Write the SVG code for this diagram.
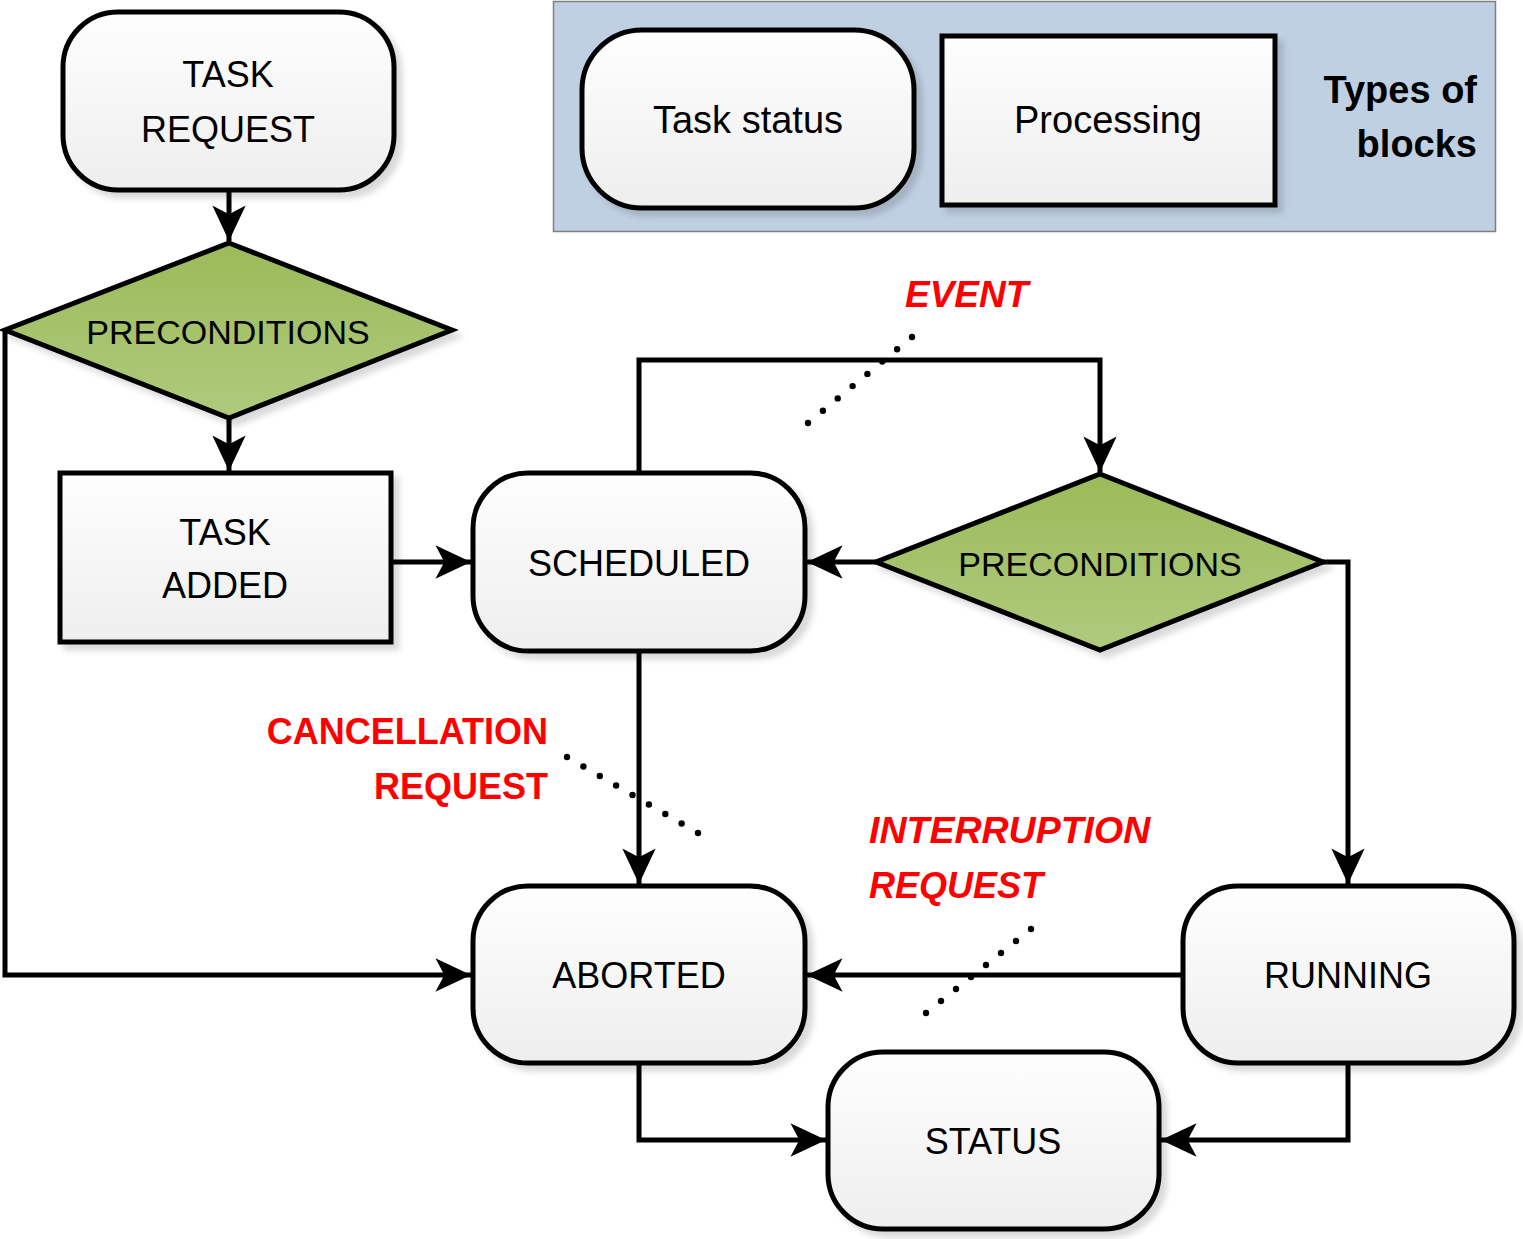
<svg xmlns="http://www.w3.org/2000/svg" width="1523" height="1239" viewBox="0 0 1523 1239">
<style>
.node{stroke:#000;stroke-width:5;fill:url(#gw)}
.dia{stroke:#000;stroke-width:5;fill:url(#gg);stroke-linejoin:miter}
.t{font-family:"Liberation Sans",Arial,sans-serif;font-size:36px;fill:#000;text-anchor:middle}
.r{font-family:"Liberation Sans",Arial,sans-serif;font-size:36px;font-weight:bold;fill:#ff0000}
.c{fill:none;stroke:#000;stroke-width:5;stroke-linejoin:miter}
.dots circle{fill:#000}
</style>
<defs>
<linearGradient id="gw" x1="0" y1="0" x2="0" y2="1"><stop offset="0" stop-color="#fefefe"/><stop offset="1" stop-color="#eeeeee"/></linearGradient>
<linearGradient id="gg" x1="0" y1="0" x2="0" y2="1"><stop offset="0" stop-color="#9bbb59"/><stop offset="1" stop-color="#afca7d"/></linearGradient>
<filter id="sh" x="-10%" y="-10%" width="130%" height="130%">
<feGaussianBlur in="SourceAlpha" stdDeviation="3"/>
<feOffset dx="6" dy="6" result="b"/>
<feComponentTransfer><feFuncA type="linear" slope="0.15"/></feComponentTransfer>
<feMerge><feMergeNode/><feMergeNode in="SourceGraphic"/></feMerge>
</filter>
<marker id="ah" markerUnits="userSpaceOnUse" markerWidth="40" markerHeight="40" viewBox="-34 -18 36 36" refX="0" refY="0" orient="auto">
<path d="M0,0 L-32,-15 L-24,0 L-32,15 Z" fill="#000"/>
</marker>
</defs>
<rect width="1523" height="1239" fill="#fff"/>

<g id="legend">
<rect x="553.5" y="1.5" width="942" height="230" fill="#c0d0e3" stroke="#7f7f7f" stroke-width="1.5"/>
<rect x="582" y="30" width="332" height="178" rx="60" ry="60" class="node" filter="url(#sh)"/>
<text x="748" y="133" class="t" style="font-size:38px">Task status</text>
<rect x="942" y="36" width="333" height="169" class="node" filter="url(#sh)"/>
<text x="1108" y="133" class="t" style="font-size:38px">Processing</text>
<text x="1477" y="103" style="font-family:'Liberation Sans',Arial,sans-serif;font-size:38px;font-weight:bold;text-anchor:end">Types of</text>
<text x="1477" y="157" style="font-family:'Liberation Sans',Arial,sans-serif;font-size:38px;font-weight:bold;text-anchor:end">blocks</text>
</g>

<g id="connectors">
<path class="c" d="M229,190 V241" marker-end="url(#ah)"/>
<path class="c" d="M229,418 V471" marker-end="url(#ah)"/>
<path class="c" d="M5,330 V975 H471" marker-end="url(#ah)"/>
<path class="c" d="M391,562 H471" marker-end="url(#ah)"/>
<path class="c" d="M639,473 V360 H1100 V472" marker-end="url(#ah)"/>
<path class="c" d="M876,562 H807" marker-end="url(#ah)"/>
<path class="c" d="M1323,562 H1348 V884" marker-end="url(#ah)"/>
<path class="c" d="M639,651 V884" marker-end="url(#ah)"/>
<path class="c" d="M1183,975 H807" marker-end="url(#ah)"/>
<path class="c" d="M639,1063 V1140 H826" marker-end="url(#ah)"/>
<path class="c" d="M1348,1063 V1140 H1161" marker-end="url(#ah)"/>
</g>

<g id="annotations">
<g class="dots">
<circle cx="808" cy="423" r="3.2"/><circle cx="822.9" cy="410.7" r="3.2"/><circle cx="837.7" cy="398.4" r="3.2"/><circle cx="852.6" cy="386.1" r="3.2"/><circle cx="867.4" cy="373.9" r="3.2"/><circle cx="882.3" cy="361.6" r="3.2"/><circle cx="897.1" cy="349.3" r="3.2"/><circle cx="912" cy="337" r="3.2"/>
<circle cx="567" cy="757" r="3.2"/><circle cx="583.4" cy="766.5" r="3.2"/><circle cx="599.8" cy="776" r="3.2"/><circle cx="616.1" cy="785.5" r="3.2"/><circle cx="632.5" cy="795" r="3.2"/><circle cx="648.9" cy="804.5" r="3.2"/><circle cx="665.3" cy="814" r="3.2"/><circle cx="681.6" cy="823.5" r="3.2"/><circle cx="698" cy="833" r="3.2"/>
<circle cx="926" cy="1013" r="3.2"/><circle cx="941" cy="1001" r="3.2"/><circle cx="956" cy="989" r="3.2"/><circle cx="971" cy="977" r="3.2"/><circle cx="986" cy="965" r="3.2"/><circle cx="1001" cy="953" r="3.2"/><circle cx="1016" cy="941" r="3.2"/><circle cx="1031" cy="929" r="3.2"/>
</g>
<text x="905" y="307" class="r" style="font-style:italic;font-size:37px">EVENT</text>
<text x="548" y="744" class="r" text-anchor="end">CANCELLATION</text>
<text x="548" y="799" class="r" text-anchor="end">REQUEST</text>
<text x="869" y="843" class="r" style="font-style:italic;font-size:37.5px">INTERRUPTION</text>
<text x="869" y="898" class="r" style="font-style:italic">REQUEST</text>
</g>

<g id="task-request">
<rect x="63" y="12" width="331" height="178" rx="55" ry="55" class="node" filter="url(#sh)"/>
<text x="228" y="87" class="t">TASK</text>
<text x="228" y="142" class="t">REQUEST</text>
</g>

<g id="preconditions-1">
<polygon points="229,243 452,330 229,418 5,330" class="dia" filter="url(#sh)"/>
<text x="228" y="344" class="t" style="font-size:34px">PRECONDITIONS</text>
</g>

<g id="task-added">
<rect x="60" y="473" width="331" height="169" class="node" filter="url(#sh)"/>
<text x="225" y="545" class="t">TASK</text>
<text x="225" y="598" class="t">ADDED</text>
</g>

<g id="scheduled">
<rect x="473" y="473" width="332" height="178" rx="55" ry="55" class="node" filter="url(#sh)"/>
<text x="639" y="576" class="t">SCHEDULED</text>
</g>

<g id="preconditions-2">
<polygon points="1100,474 1323,562 1100,650 876,562" class="dia" filter="url(#sh)"/>
<text x="1100" y="576" class="t" style="font-size:34px">PRECONDITIONS</text>
</g>

<g id="aborted">
<rect x="473" y="886" width="332" height="177" rx="55" ry="55" class="node" filter="url(#sh)"/>
<text x="639" y="988" class="t">ABORTED</text>
</g>

<g id="running">
<rect x="1183" y="886" width="331" height="177" rx="55" ry="55" class="node" filter="url(#sh)"/>
<text x="1348" y="988" class="t">RUNNING</text>
</g>

<g id="status">
<rect x="828" y="1052" width="331" height="177" rx="55" ry="55" class="node" filter="url(#sh)"/>
<text x="993" y="1154" class="t">STATUS</text>
</g>
</svg>
